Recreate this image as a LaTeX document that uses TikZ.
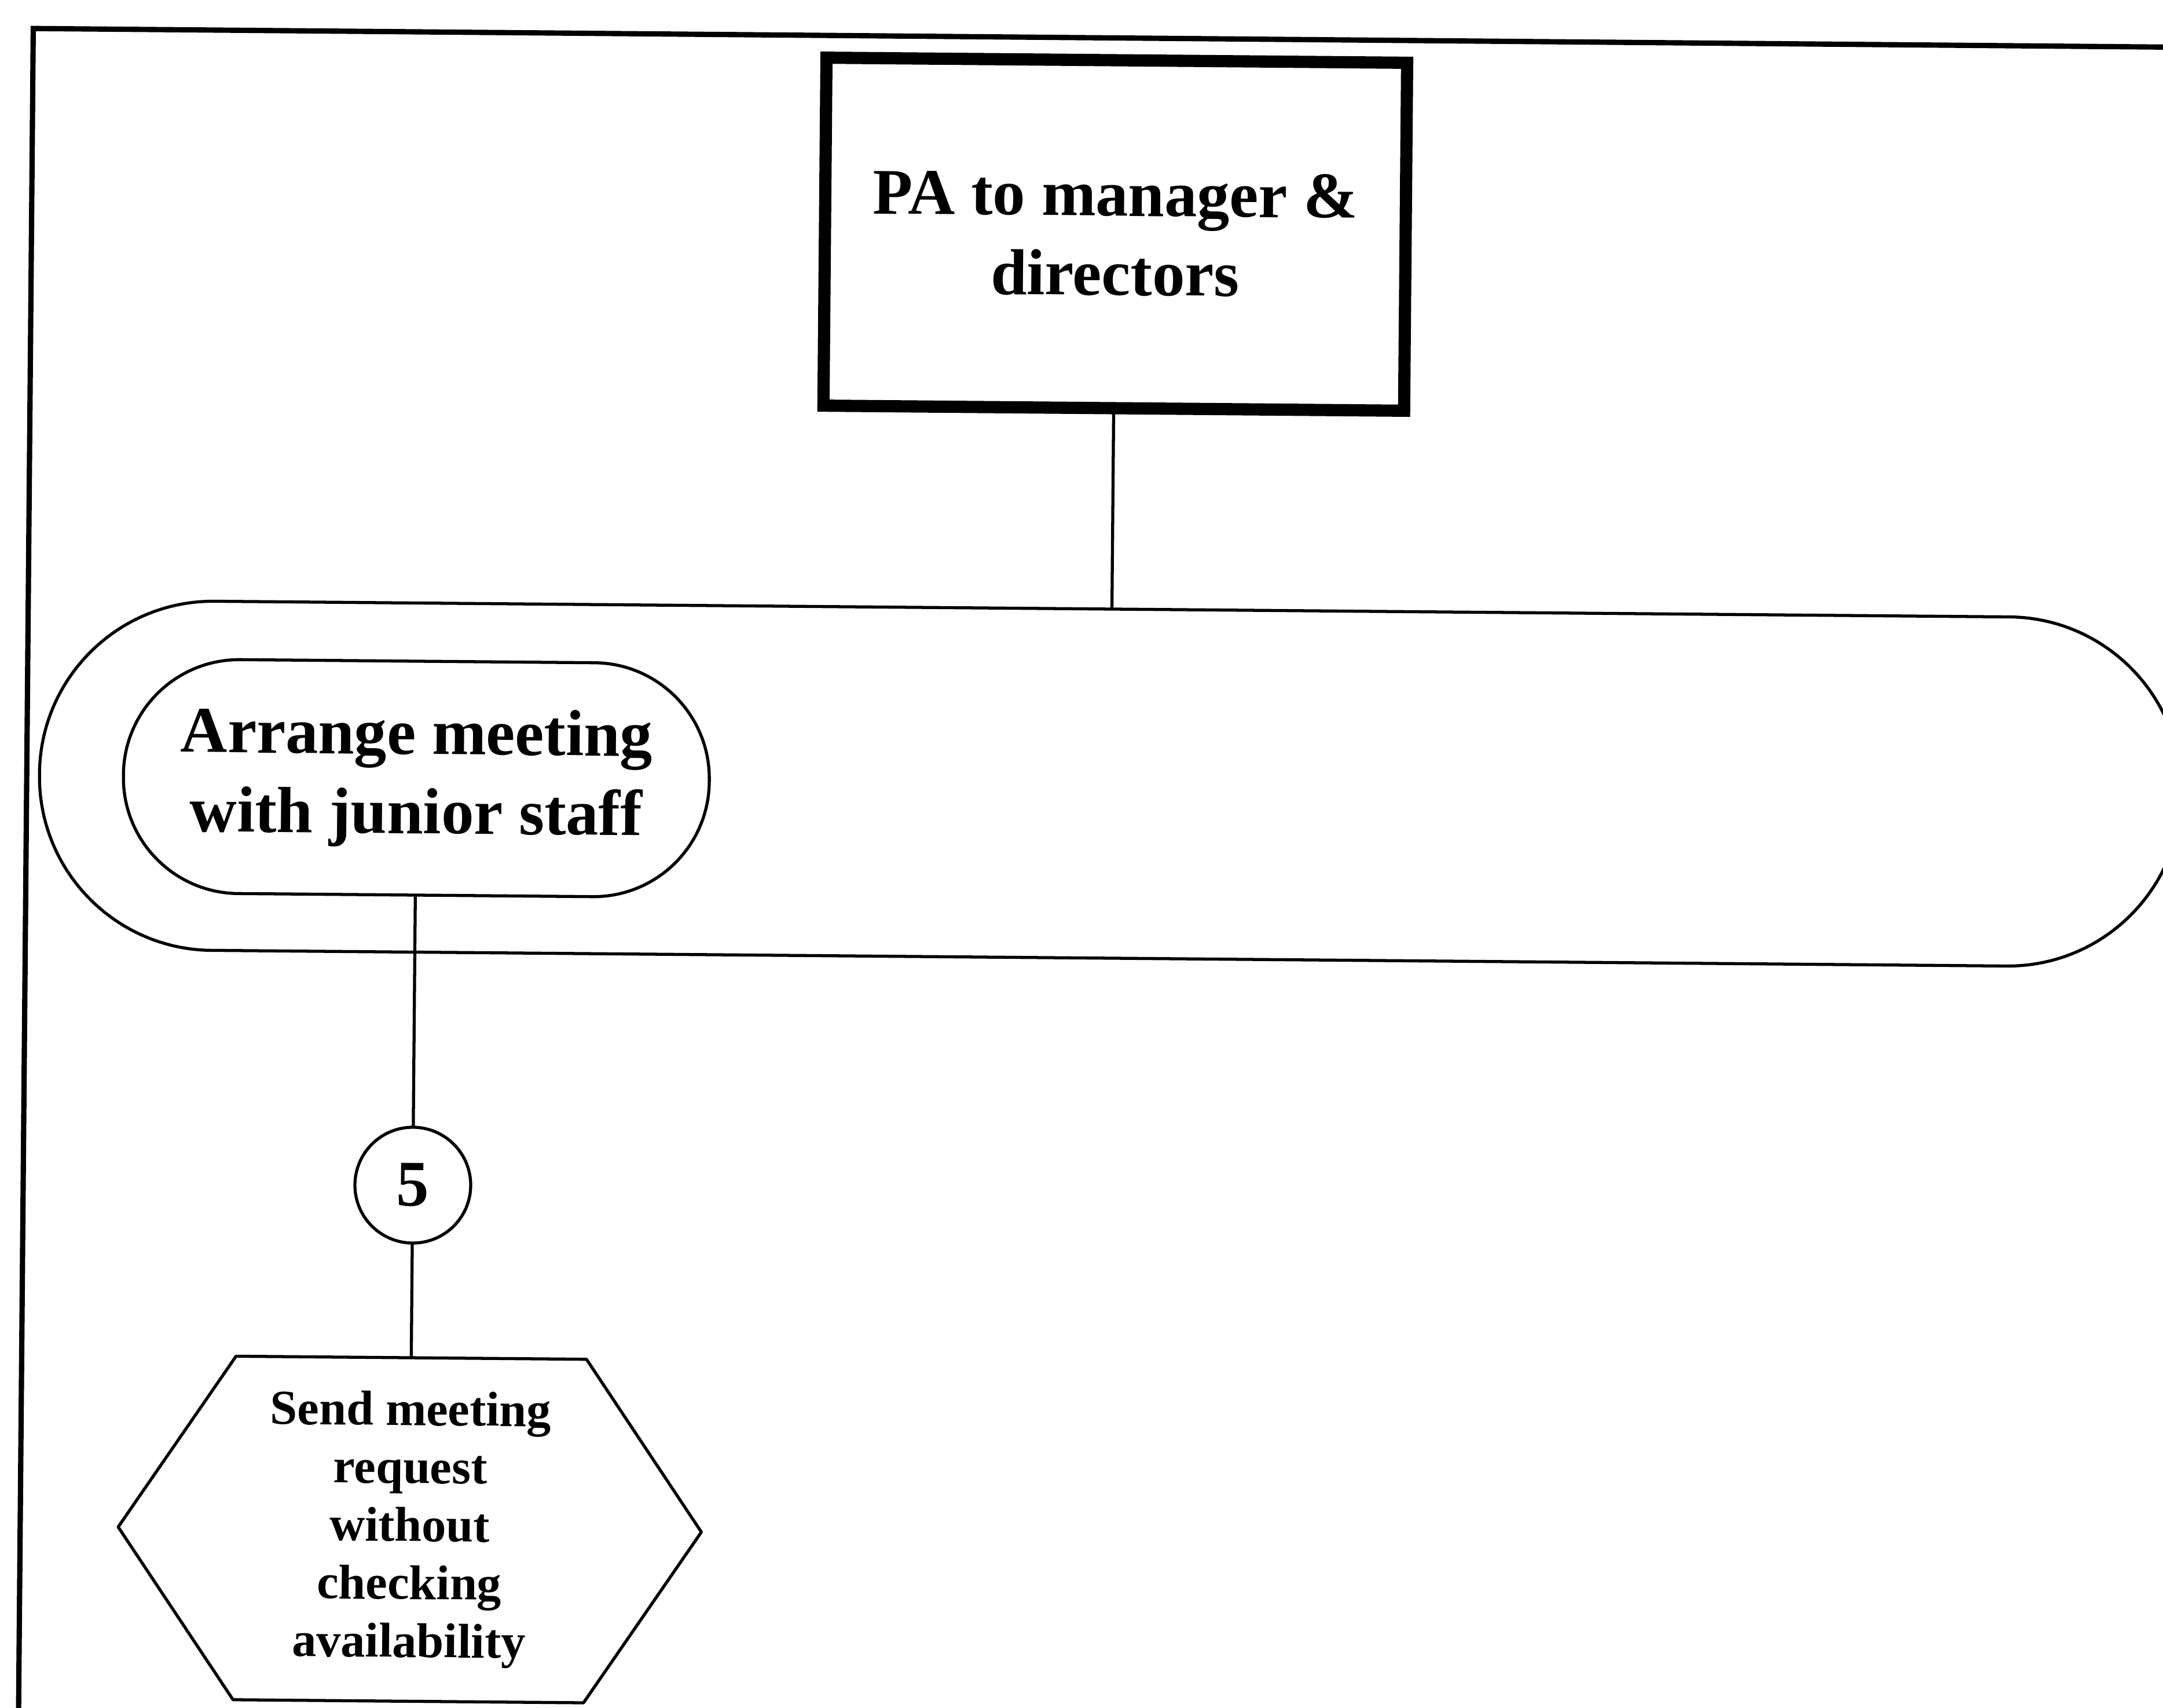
\documentclass[tikz,border=0pt]{standalone}
\usepackage{fontspec}
\setmainfont{Liberation Serif}
\usetikzlibrary{calc}

\tikzset{
  edge/.style={line width=1.5pt, line cap=round, line join=round},
  bigtext/.style={font=\bfseries\fontsize{32}{39}\selectfont, align=center, inner sep=0pt},
  roleblock/.style={bigtext, draw, line width=6pt, minimum width=10.03cm, minimum height=6.01cm},
  laneband/.style={draw, edge, rectangle, rounded corners=3.0cm, minimum width=37.0cm, minimum height=6.03cm, inner sep=0pt},
  taskpill/.style={bigtext, draw, line width=1.5pt, rounded corners=2.0cm, minimum width=10.12cm, minimum height=4.04cm},
  stepnum/.style={bigtext, draw, line width=1.5pt, circle, minimum size=2.0cm},
  hexlabel/.style={font=\bfseries\fontsize{24}{28.5}\selectfont, align=center, inner sep=0pt, minimum width=6.04cm, minimum height=5.92cm}
}

\begin{document}
\begin{tikzpicture}
  \useasboundingbox (0,0) rectangle (37.36,-29.49);
  \clip (0,0) rectangle (37.36,-29.49);
  \begin{scope}[rotate around={-0.5:(18.68,-14.75)}, transform shape]
    % sheet border
    \draw[line width=2.6pt, line join=miter] (0.45,-30.5) -- (0.45,-0.65) -- (38.5,-0.65);

    % role box
    \node[roleblock] (role) at (19.17,-4.04) {PA to manager \&\\directors};

    % swim-lane band
    \node[laneband] (lane) at (19.17,-13.53) {};

    % activity in the lane
    \node[taskpill] (task) at (7.18,-13.54) {Arrange meeting\\with junior staff};

    % step number
    \node[stepnum] (num) at (7.18,-20.57) {5};

    % hexagonal action
    \node[hexlabel] (act) at (7.18,-26.52) {Send meeting\\request\\without\\checking\\availability};
    \draw[edge] (act.north west) -- (act.north east)
      -- ($(act.east)!-2.01cm!(act.west)$)
      -- (act.south east) -- (act.south west)
      -- ($(act.west)!-2.01cm!(act.east)$) -- cycle;

    % connectors
    \draw[edge] (role.south) -- (lane.north);
    \draw[edge] (task.south) -- (num.north);
    \draw[edge] (num.south) -- (act.north);
  \end{scope}
\end{tikzpicture}
\end{document}
